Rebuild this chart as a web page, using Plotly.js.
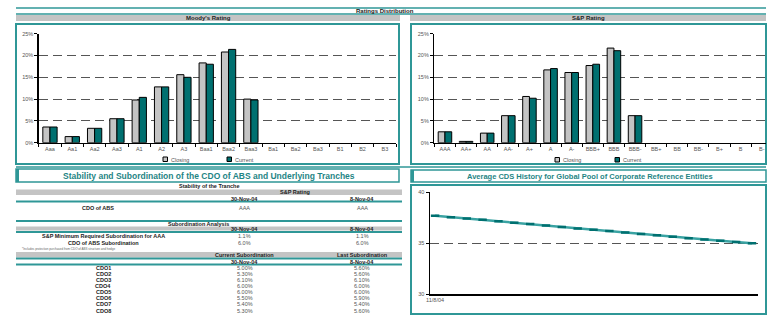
<!DOCTYPE html>
<html><head><meta charset="utf-8">
<script src="https://cdn.plot.ly/plotly-3.0.1.min.js"></script>
<style>html,body{margin:0;padding:0;background:#fff;overflow:hidden}#c{width:769px;height:317px}</style>
</head><body><div id="c"></div>
<script>
// ---- data ----
const moodysCats = ['Aaa','Aa1','Aa2','Aa3','A1','A2','A3','Baa1','Baa2','Baa3','Ba1','Ba2','Ba3','B1','B2','B3'];
const moodysClosing = [3.6,1.4,3.3,5.5,9.8,12.8,15.6,18.3,20.8,10.0,0,0,0,0,0,0];
const moodysCurrent = [3.6,1.4,3.3,5.5,10.4,12.8,15.0,18.0,21.4,9.8,0,0,0,0,0,0];
const spCats = ['AAA','AA+','AA','AA-','A+','A','A-','BBB+','BBB','BBB-','BB+','BB','BB-','B+','B','B-'];
const spClosing = [2.5,0.3,2.2,6.2,10.6,16.7,16.1,17.7,21.7,6.2,0,0,0,0,0,0];
const spCurrent = [2.5,0.3,2.2,6.2,10.2,17.0,16.1,18.0,21.1,6.2,0,0,0,0,0,0];
const seriesNames = ['Closing','Current'];
const pctTicks = [0,5,10,15,20,25];
const pctLabels = ['0%','5%','10%','15%','20%','25%'];
const cdsDates = ['11/8/04','11/9/04','11/10/04','11/11/04','11/12/04','11/13/04','11/14/04','11/15/04','11/16/04','11/17/04','11/18/04','11/19/04','11/20/04','11/21/04','11/22/04','11/23/04','11/24/04','11/25/04','11/26/04','11/27/04','11/28/04'];
const cdsValues = [37.7,37.56,37.43,37.3,37.16,37.02,36.88,36.74,36.6,36.46,36.33,36.2,36.06,35.92,35.78,35.64,35.5,35.37,35.24,35.12,35.0];
const cdsTicks = [30,35,40];
const dateHeaders = ['30-Nov-04','8-Nov-04'];
const trancheRating = ['AAA','AAA'];
const subRows = ['S&P Minimum Required Subordination for AAA','CDO of ABS Subordination'];
const subMinReq = ['1.1%','1.1%'];
const subCdo = ['6.0%','6.0%'];
const cdoNames = ['CDO1','CDO2','CDO3','CDO4','CDO5','CDO6','CDO7','CDO8'];
const cdoCurrent = ['5.00%','5.30%','6.10%','6.00%','6.00%','5.50%','5.40%','5.30%'];
const cdoLast = ['5.60%','5.60%','6.10%','6.00%','6.00%','5.90%','5.40%','5.60%'];

// ---- helpers ----
const W=769,H=317;
const X=p=>p/W, Y=p=>1-p/H;
const TEAL='#2f9797', DTEAL='#007070', GREY='#c4c4c4', FONT='Liberation Sans, Arial, sans-serif';
const shapes=[], ann=[];
function rect(x0,y0,x1,y1,o){shapes.push(Object.assign({type:'rect',xref:'paper',yref:'paper',x0:X(x0),x1:X(x1),y0:Y(y1),y1:Y(y0),line:{width:0},layer:'below'},o));}
function hline(y,x0,x1,w,c){shapes.push({type:'line',xref:'paper',yref:'paper',x0:X(x0),x1:X(x1),y0:Y(y),y1:Y(y),line:{color:c||TEAL,width:w||1.5},layer:'above'});}
function txt(t,x,y,o){ann.push(Object.assign({text:t,xref:'paper',yref:'paper',x:X(x),y:Y(y),showarrow:false,xanchor:'center',yanchor:'middle',font:{family:FONT,size:5.5,color:'#555'}},o));}

// header
hline(8,16,766); hline(14,16,766);
txt('<b>Ratings Distribution</b>',385,11,{font:{family:FONT,size:6,color:'#222'}});
rect(16,15,400,21,{fillcolor:GREY}); rect(410,15,766,21,{fillcolor:GREY});
txt("<b>Moody's Rating</b>",208,18,{font:{family:FONT,size:6,color:'#222'}});
txt('<b>S&P Rating</b>',588,18,{font:{family:FONT,size:6,color:'#222'}});
// frames
rect(16,24,399,164,{line:{color:TEAL,width:2},fillcolor:'rgba(0,0,0,0)'});
rect(411,24,766,164,{line:{color:TEAL,width:2},fillcolor:'rgba(0,0,0,0)'});
hline(167,16,766);
// legends
function legend(x1,x2,y){
  rect(x1,y-2.5,x1+4.5,y+2,{fillcolor:GREY,line:{color:'#000',width:1},layer:'above'});
  txt(seriesNames[0],x1+6,y,{xanchor:'left'});
  rect(x2,y-2.5,x2+4.5,y+2,{fillcolor:DTEAL,line:{color:'#000',width:1},layer:'above'});
  txt(seriesNames[1],x2+6,y,{xanchor:'left'});
}
legend(163,227,159.5); legend(555,615,160);

// section title boxes
rect(16,169,399,182,{line:{color:TEAL,width:1.5},fillcolor:'rgba(0,0,0,0)'});
rect(16,169,19,182,{fillcolor:TEAL,layer:'above'});
txt('<b>Stability and Subordination of the CDO of ABS and Underlying Tranches</b>',209,175.5,{font:{family:FONT,size:8.5,color:'#1f8585'}});
rect(411,170,766,182,{line:{color:TEAL,width:1.5},fillcolor:'rgba(0,0,0,0)'});
rect(411,170,414,182,{fillcolor:TEAL,layer:'above'});
txt('<b>Average CDS History for Global Pool of Corporate Reference Entities</b>',590,176,{font:{family:FONT,size:7.5,color:'#1f8585'}});
rect(411,185,766,314,{line:{color:TEAL,width:2},fillcolor:'rgba(0,0,0,0)'});

// table
const C1=245,C2=362,CL=103;
const hdr={font:{family:FONT,size:5.5,color:'#222'}};
txt('<b>Stability of the Tranche</b>',209,185.7,hdr);
rect(16,189.5,402,195,{fillcolor:GREY});
txt('<b>S&P Rating</b>',295,192.3,hdr);
txt('<b>'+dateHeaders[0]+'</b>',C1,198.5,hdr); txt('<b>'+dateHeaders[1]+'</b>',C2,198.5,hdr);
hline(201.5,16,402,2);
txt('<b>CDO of ABS</b>',98,208,hdr);
txt(trancheRating[0],C1,208); txt(trancheRating[1],C2,208);
hline(221,16,402,2);
txt('<b>Subordination Analysis</b>',198,224.3,hdr);
rect(16,226.5,402,230.5,{fillcolor:GREY});
txt('<b>'+dateHeaders[0]+'</b>',C1,229.3,hdr); txt('<b>'+dateHeaders[1]+'</b>',C2,229.3,hdr);
hline(232,16,402,2);
txt('<b>'+subRows[0]+'</b>',CL,236,hdr); txt(subMinReq[0],C1,236); txt(subMinReq[1],C2,236);
txt('<b>'+subRows[1]+'</b>',CL,242.7,hdr); txt(subCdo[0],C1,242.7); txt(subCdo[1],C2,242.7);
txt('*Includes protection purchased from CDO of ABS structure and hedge',20,249,{xanchor:'left',font:{family:FONT,size:3,color:'#666'}});
rect(16,252,402,257.5,{fillcolor:GREY});
txt('<b>Current Subordination</b>',C1,254.8,hdr); txt('<b>Last Subordination</b>',C2,254.8,hdr);
hline(258.5,16,402,2);
txt('<b>'+dateHeaders[0]+'</b>',C1,261.8,hdr); txt('<b>'+dateHeaders[1]+'</b>',C2,261.8,hdr);
hline(264.5,16,402,2);
const rowY=[267.7,274,280,285.7,292.3,298.3,304,310.7];
cdoNames.forEach((n,i)=>{txt('<b>'+n+'</b>',CL,rowY[i],hdr);txt(cdoCurrent[i],C1,rowY[i]);txt(cdoLast[i],C2,rowY[i]);});

// ---- traces ----
const barLine=v=>({color:'#000',width:v.map(d=>d>0?1:0)});
const traces=[
 {type:'bar',x:moodysCats,y:moodysClosing,name:seriesNames[0],marker:{color:GREY,line:barLine(moodysClosing)},xaxis:'x',yaxis:'y'},
 {type:'bar',x:moodysCats,y:moodysCurrent,name:seriesNames[1],marker:{color:DTEAL,line:barLine(moodysCurrent)},xaxis:'x',yaxis:'y'},
 {type:'bar',x:spCats,y:spClosing,name:seriesNames[0],marker:{color:GREY,line:barLine(spClosing)},xaxis:'x2',yaxis:'y2'},
 {type:'bar',x:spCats,y:spCurrent,name:seriesNames[1],marker:{color:DTEAL,line:barLine(spCurrent)},xaxis:'x2',yaxis:'y2'},
 {type:'scatter',mode:'lines+markers',x:cdsDates,y:cdsValues,line:{color:'#3aa3a3',width:2.5},
  marker:{symbol:'line-ew',size:6,line:{color:DTEAL,width:2.5}},xaxis:'x3',yaxis:'y3'}
];
const tickF={family:FONT,size:5.5,color:'#555'};
const GD='9px,5px';
function xcat(dom,range){return {domain:[X(dom[0]),X(dom[1])],range:range,type:'category',showline:true,linecolor:'#000',linewidth:1.5,
  ticks:'outside',tickson:'boundaries',ticklen:3,tickcolor:'#000',tickfont:tickF,tickangle:0,showgrid:false,zeroline:false,fixedrange:true};}
function ypct(anchor){return {domain:[Y(142.7),Y(33.7)],range:[0,25],tickvals:pctTicks,ticktext:pctLabels,showline:true,linecolor:'#000',linewidth:1.5,
  ticks:'outside',ticklen:3,tickcolor:'#000',tickfont:tickF,showgrid:true,gridcolor:'#555',griddash:GD,gridwidth:1,zeroline:false,anchor:anchor};}
const layout={width:W,height:H,margin:{l:0,r:0,t:0,b:0},paper_bgcolor:'#fff',plot_bgcolor:'rgba(0,0,0,0)',showlegend:false,
  barmode:'group',bargap:0.36,bargroupgap:0,font:{family:FONT},
  xaxis:Object.assign(xcat([38.8,396],[-0.5,15.5]),{anchor:'y'}),
  yaxis:ypct('x'),
  xaxis2:Object.assign(xcat([434.4,766],[-0.5,15.2]),{anchor:'y2'}),
  yaxis2:ypct('x2'),
  xaxis3:{domain:[X(430),X(758)],type:'category',range:[-0.32,20.38],anchor:'y3',showline:true,linecolor:'#000',linewidth:1.5,
    ticks:'',tickvals:[cdsDates[0]],ticktext:[cdsDates[0]],tickfont:tickF,tickangle:0,showgrid:false,zeroline:false},
  yaxis3:{domain:[Y(294.3),Y(192.3)],range:[30,40],tickvals:cdsTicks,anchor:'x3',showline:true,linecolor:'#000',linewidth:1.5,
    ticks:'outside',ticklen:3,tickcolor:'#000',tickfont:tickF,showgrid:true,gridcolor:'#555',griddash:GD,gridwidth:1,zeroline:false},
  shapes:shapes,annotations:ann};
Plotly.newPlot('c',traces,layout,{displayModeBar:false,staticPlot:true});
</script></body></html>
